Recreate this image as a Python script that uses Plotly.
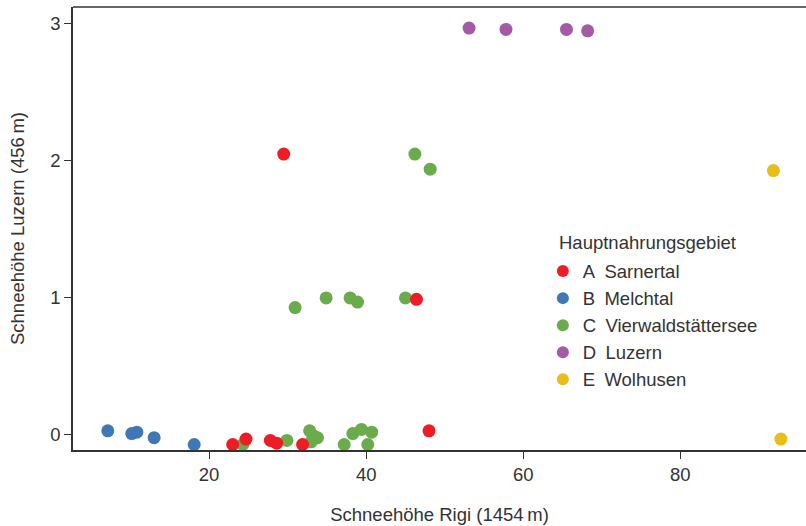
import plotly.graph_objects as go

groups = ["A\u2002Sarnertal", "B\u2002Melchtal", "C\u2002Vierwaldstättersee", "D\u2002Luzern", "E\u2002Wolhusen"]
colors = ["#EE1D25", "#4078B6", "#6AAB4C", "#A45AA4", "#EABE1A"]
legend_title = "Hauptnahrungsgebiet"

a_x = [29.5, 46.4, 48.0, 23.0, 24.7, 27.8, 28.6, 31.9]
a_y = [2.05, 0.99, 0.03, -0.07, -0.03, -0.04, -0.06, -0.07]

b_x = [7.1, 10.15, 10.8, 13.0, 18.1]
b_y = [0.03, 0.01, 0.02, -0.02, -0.07]

c_x = [46.2, 48.15, 30.95, 34.9, 37.95, 38.9, 45.0, 24.3, 29.9, 32.8, 33.4, 33.8, 33.0, 37.2, 38.3, 39.4, 40.2, 40.7]
c_y = [2.05, 1.94, 0.93, 1.0, 1.0, 0.97, 1.0, -0.07, -0.04, 0.03, -0.01, -0.02, -0.05, -0.07, 0.01, 0.04, -0.07, 0.02]

d_x = [53.1, 57.8, 65.5, 68.2]
d_y = [2.97, 2.96, 2.96, 2.95]

e_x = [91.85, 92.8]
e_y = [1.93, -0.03]

xs = [a_x, b_x, c_x, d_x, e_x]
ys = [a_y, b_y, c_y, d_y, e_y]
order = [2, 1, 3, 4, 0]  # draw green first so red appears on top

fig = go.Figure()
for i in order:
    fig.add_trace(go.Scatter(
        x=xs[i], y=ys[i], mode="markers", name=groups[i],
        marker=dict(size=13, color=colors[i], line=dict(width=0)),
        legendrank=i,
    ))

font = "Liberation Sans, Arial, sans-serif"
fs = 18.5
ink = "#333333"
fig.update_layout(
    width=806, height=526,
    margin=dict(l=73, r=0, t=7, b=76),
    plot_bgcolor="white", paper_bgcolor="white",
    font=dict(family=font, size=fs, color=ink),
    showlegend=True,
    legend=dict(
        x=0.641, y=0.4457, xanchor="left", yanchor="top",
        font=dict(size=fs, color=ink),
        bgcolor="rgba(0,0,0,0)", tracegroupgap=0, itemsizing="constant",
    ),
    xaxis=dict(
        range=[2.67, 96], tickvals=[20, 40, 60, 80],
        showgrid=False, zeroline=False,
        showline=True, linecolor=ink, linewidth=1.5,
        ticks="outside", ticklen=7, tickwidth=1.2, tickcolor=ink,
        title=dict(text="Schneehöhe Rigi (1454\u2009m)", font=dict(size=fs, color=ink), standoff=24),
        tickfont=dict(size=fs, color=ink),
    ),
    yaxis=dict(
        range=[-0.11, 3.124], tickvals=[0, 1, 2, 3],
        showgrid=False, zeroline=False,
        showline=True, linecolor=ink, linewidth=1.5,
        ticks="outside", ticklen=7, tickwidth=1.2, tickcolor=ink,
        title=dict(text="Schneehöhe Luzern (456\u2009m)", font=dict(size=fs, color=ink), standoff=21),
        tickfont=dict(size=fs, color=ink),
    ),
    shapes=[dict(type="line", xref="paper", yref="paper", x0=0, x1=1.05, y0=1, y1=1,
                 line=dict(color=ink, width=1.5))],
    annotations=[dict(text=legend_title, xref="paper", yref="paper", x=0.660, y=0.4695,
                      xanchor="left", yanchor="middle", showarrow=False,
                      font=dict(size=fs, color=ink))],
)

fig.write_html("out.html")
